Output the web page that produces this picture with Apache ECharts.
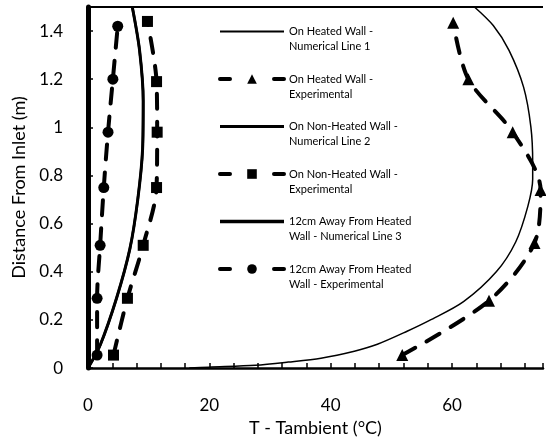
<!DOCTYPE html>
<html>
<head>
<meta charset="utf-8">
<script src="https://cdn.jsdelivr.net/npm/echarts@6/dist/echarts.min.js"></script>
<style>
  html, body { margin: 0; padding: 0; background: #fff; }
  #chart { width: 546px; height: 442px; }
</style>
</head>
<body>
<div id="chart"></div>
<script>
  // numerical curves
  const heatedNumT = [16.7, 19.9, 27.6, 33.0, 38.4, 43.9, 47.7, 52.6, 56.3, 61.9, 67.3, 70.5, 72.5, 73.3, 73.3, 73.0, 71.8, 69.4, 66.8, 63.7]
  const heatedNumY = [0, 0.004, 0.012, 0.025, 0.041, 0.07, 0.099, 0.153, 0.198, 0.276, 0.40, 0.524, 0.672, 0.784, 0.854, 1.002, 1.167, 1.32, 1.423, 1.5]
  const nonHeatedNumT = [0, 2.0, 4.7, 6.9, 8.2, 9.0, 9.1, 8.5, 7.3]
  const nonHeatedNumY = [0, 0.095, 0.29, 0.495, 0.70, 0.91, 1.11, 1.32, 1.5]
  const awayNumT = [0, 2.0, 4.7, 6.9, 8.2, 9.0, 9.1, 8.5, 7.3]
  const awayNumY = [0, 0.095, 0.29, 0.495, 0.70, 0.91, 1.11, 1.32, 1.5]

  // experimental points
  const heatedExpT = [51.8, 66.1, 73.6, 74.6, 70.0, 62.7, 60.2]
  const heatedExpY = [0.054, 0.28, 0.52, 0.74, 0.98, 1.2, 1.435]
  const nonHeatedExpT = [4.2, 6.5, 9.1, 11.3, 11.4, 11.3, 9.8]
  const nonHeatedExpY = [0.054, 0.29, 0.51, 0.75, 0.98, 1.19, 1.44]
  const awayExpT = [1.5, 1.5, 2.0, 2.6, 3.3, 4.1, 4.9]
  const awayExpY = [0.054, 0.29, 0.51, 0.75, 0.98, 1.2, 1.42]

  const yTop = 1.5

  const names = [
    'On Heated Wall -\nNumerical Line 1',
    'On Heated Wall -\nExperimental',
    'On Non-Heated Wall -\nNumerical Line 2',
    'On Non-Heated Wall -\nExperimental',
    '12cm Away From Heated\nWall - Numerical Line 3',
    '12cm Away From Heated\nWall - Experimental'
  ]
  const numWidths = [1.5, 2.5, 3]

  const FONT = 'Lato'

  function pairs(xs, ys) {
    return xs.map((x, i) => [x, ys[i]])
  }

  function numLine(name, xs, ys, w) {
    return {
      name: name, type: 'line', data: pairs(xs, ys),
      smooth: 0.3, symbol: 'none', z: 2,
      itemStyle: {color: '#000'},
      lineStyle: {color: '#000', width: w}
    }
  }

  function expLine(name, xs, ys, sym, size) {
    return {
      name: name, type: 'line', data: pairs(xs, ys),
      smooth: 0.3, symbol: sym, symbolSize: size, showSymbol: true, z: 3,
      itemStyle: {color: '#000'},
      lineStyle: {color: '#000', width: 4, type: [15, 13], cap: 'round'}
    }
  }

  const series = [
    numLine(names[0], heatedNumT, heatedNumY, numWidths[0]),
    expLine(names[1], heatedExpT, heatedExpY, 'triangle', 12),
    numLine(names[2], nonHeatedNumT, nonHeatedNumY, numWidths[1]),
    expLine(names[3], nonHeatedExpT, nonHeatedExpY, 'rect', 11),
    numLine(names[4], awayNumT, awayNumY, numWidths[2]),
    expLine(names[5], awayExpT, awayExpY, 'circle', 11)
  ]
  // top frame line of the plot area
  series[0].markLine = {
    silent: true, symbol: 'none', label: {show: false},
    lineStyle: {color: '#000', width: 2, type: 'solid'},
    data: [{yAxis: yTop}]
  }

  const chart = echarts.init(document.getElementById('chart'))

  chart.setOption({
    animation: false,
    grid: {left: 88, top: 7, right: -1, bottom: 72},
    legend: {
      orient: 'vertical',
      left: 218, top: 9,
      padding: 0,
      itemWidth: 64, itemHeight: 12, itemGap: 2.5,
      textStyle: {fontFamily: FONT, fontSize: 11, color: '#000', lineHeight: 15},
      formatter: n => ' \n' + n,
      data: names.map((n, i) => i % 2 === 1
        ? {name: n, lineStyle: {type: [10, 44], width: 4}}
        : {name: n, itemStyle: {opacity: 0}, lineStyle: {width: numWidths[i / 2] + 0.5, type: 'solid'}})
    },
    xAxis: {
      type: 'value', min: 0, max: 75, interval: 4,
      name: 'T - Tambient (°C)', nameLocation: 'middle', nameGap: 48,
      nameTextStyle: {fontFamily: FONT, fontSize: 18, color: '#000'},
      axisLine: {lineStyle: {color: '#000', width: 2.5}},
      axisTick: {inside: true, length: 5, lineStyle: {color: '#000', width: 1.5}},
      axisLabel: {
        margin: 29, fontFamily: FONT, fontSize: 17, color: '#000',
        formatter: v => (v % 20 === 0 ? String(v) : '')
      },
      splitLine: {show: false}
    },
    yAxis: {
      type: 'value', min: 0, max: yTop, interval: 0.2,
      name: 'Distance From Inlet (m)', nameLocation: 'middle', nameGap: 60,
      nameTextStyle: {fontFamily: FONT, fontSize: 18, color: '#000'},
      axisLine: {show: true, lineStyle: {color: '#000', width: 5}},
      axisTick: {inside: true, length: 5, lineStyle: {color: '#000', width: 1.5}},
      minorTick: {show: true, splitNumber: 5, length: 3, lineStyle: {color: '#000', width: 1}},
      axisLabel: {margin: 25, fontFamily: FONT, fontSize: 17, color: '#000', showMaxLabel: false},
      splitLine: {show: false}
    },
    series: series
  })
</script>
</body>
</html>
